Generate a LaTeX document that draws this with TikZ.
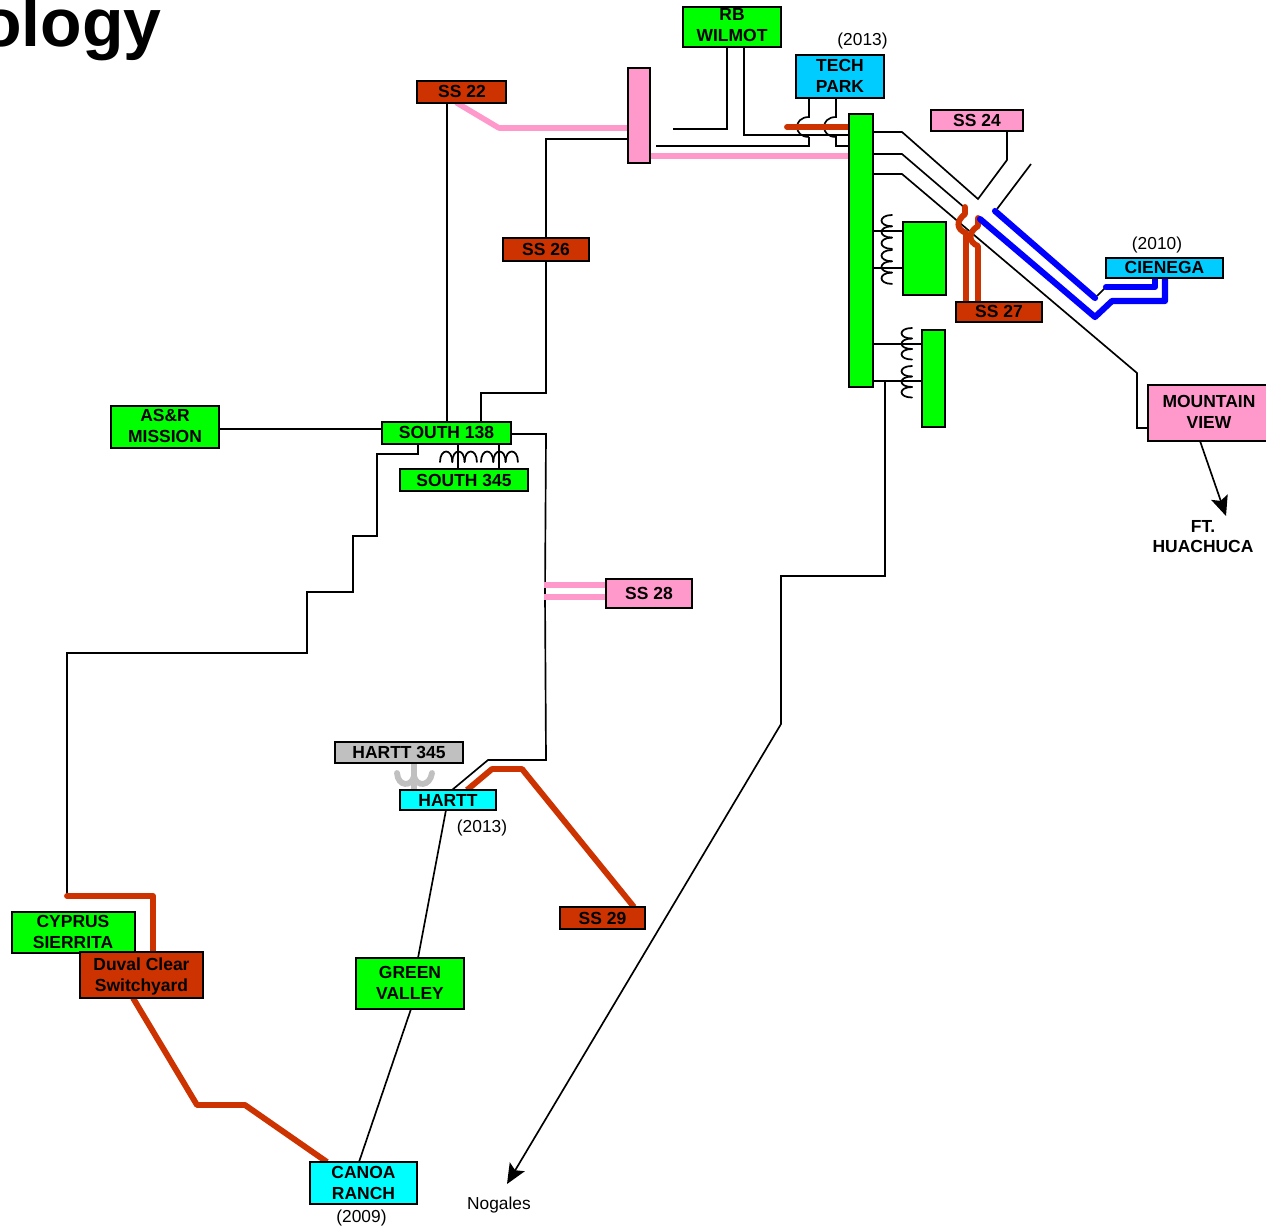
\documentclass[tikz,border=0pt]{standalone}
\usepackage{fontspec}
\setmainfont{Liberation Sans}
\usetikzlibrary{arrows.meta}
\pgfdeclarelayer{wires}
\pgfsetlayers{wires,main}
\definecolor{busgreen}{HTML}{00FF00}
\definecolor{ssred}{HTML}{CC3300}
\definecolor{sspink}{HTML}{FF99CC}
\definecolor{skyb}{HTML}{00CCFF}
\definecolor{cyanb}{HTML}{00FFFF}
\definecolor{grayb}{HTML}{C0C0C0}
\definecolor{blueln}{HTML}{0000FF}
\tikzset{
  boxn/.style={draw=black,line width=1.5pt,inner sep=0pt,outer sep=0pt,align=center,
    font=\fontsize{13.1}{15.8}\selectfont\bfseries,text=black},
  yearn/.style={inner sep=0pt,font=\fontsize{13}{15.8}\selectfont,text=black},
  wire/.style={draw=black,line width=1.25pt,line join=miter},
  coilln/.style={draw=black,line width=1.3pt,line join=round},
  redln/.style={draw=ssred,line width=4.4pt,line cap=round,line join=round},
  pinkln/.style={draw=sspink,line width=4.2pt,line join=round},
  blueline/.style={draw=blueln,line width=4.6pt,line cap=round,line join=round},
  grayln/.style={draw=grayb,line width=4.4pt,line cap=round},
  arrowln/.style={wire,-{Stealth[length=15pt,width=13pt,inset=3pt]}}
}
\newcommand{\bx}[6]{%
  \node[boxn,fill=#6,minimum width={(#3-#1)*0.75pt},minimum height={(#4-#2)*0.75pt}]
    (#5) at ({(#1+#3)/2},{(#2+#4)/2}) {};
}
\newcommand{\bxt}[9]{%
  \node[boxn,fill=#7,minimum width={(#4-#2)*0.75pt},minimum height={(#5-#3)*0.75pt}]
    (#6) at ({(#2+#4)/2},{(#3+#5)/2}) {};
  \node[inner sep=0pt,align=center,font=\fontsize{13.1}{15.7}\selectfont\bfseries,text=black] (#6t) at ({(#2+#4)/2+#9},{(#3+#5)/2+#8}) {#1};
}
% a winding: three lobes bulging from the line x=#1 to the left, starting at y=#2, each #3 high
\newcommand{\coilv}[3]{\foreach \i in {0,1,2}{\draw[coilln,line cap=round] (#1,{#2+\i*#3}) .. controls (#1-14,{#2+\i*#3}) and (#1-14,{#2+(\i+1)*#3}) .. (#1,{#2+(\i+1)*#3});}}
\newcommand{\coilh}[3]{\foreach \i in {0,1,2}{\draw[coilln,line cap=round] ({#1+\i*#2},#3) .. controls ({#1+\i*#2},#3-14) and ({#1+(\i+1)*#2},#3-14) .. ({#1+(\i+1)*#2},#3);}}
\begin{document}
\begin{tikzpicture}[x=0.75pt,y=-0.75pt]
\useasboundingbox (0,0) rectangle (1266,1228);
\node[inner sep=0pt,anchor=base east,font=\fontsize{51}{54}\selectfont\bfseries] (title) at (162,46) {ology};
% boxes
\newcommand{\rbw}{RB\\WILMOT}
\bxt{\rbw}{683}{7}{781}{47}{rb}{busgreen}{-1.5}{0}
\newcommand{\tkp}{TECH\\PARK}
\bxt{\tkp}{796}{55}{884}{98}{tech}{skyb}{-0.5}{0}
\bx{628}{68}{650}{163}{pinkbus}{sspink}
\bx{849}{114}{873}{387}{mainbus}{busgreen}
\bxt{SS 22}{417}{81}{506}{103}{ssa}{ssred}{-1}{0.5}
\bxt{SS 24}{931}{110}{1023}{131}{ssb}{sspink}{0}{0}
\bxt{SS 26}{503}{238}{589}{261}{ssc}{ssred}{0}{0}
\bxt{SS 27}{956}{302}{1042}{322}{ssd}{ssred}{-1}{0}
\bxt{SS 28}{606}{579}{692}{608}{sse}{sspink}{0}{0}
\bxt{SS 29}{560}{907}{645}{929}{ssf}{ssred}{0}{0}
\bx{903}{222}{946}{295}{tra}{busgreen}
\bx{922}{330}{945}{427}{trb}{busgreen}
\bxt{CIENEGA}{1106}{258}{1223}{278}{cien}{skyb}{-1}{0}
\newcommand{\mvw}{MOUNTAIN\\VIEW}
\bxt{\mvw}{1148}{385}{1272}{441}{mtn}{sspink}{-1}{-1}
\newcommand{\asr}{AS\&R\\MISSION}
\bxt{\asr}{111}{406}{219}{448}{asr}{busgreen}{-1}{0}
\bxt{SOUTH 138}{382}{422}{511}{444}{south}{busgreen}{-1}{0}
\bxt{SOUTH 345}{400}{469}{528}{491}{southb}{busgreen}{0}{0}
\bxt{HARTT 345}{335}{742}{463}{763}{hartb}{grayb}{-0.5}{0}
\bxt{HARTT}{400}{790}{496}{810}{hart}{cyanb}{0}{0}
\newcommand{\cys}{CYPRUS\\SIERRITA}
\bxt{\cys}{12}{912}{135}{953}{cyp}{busgreen}{-0.5}{-0.5}
\newcommand{\dvl}{Duval Clear\\Switchyard}
\bxt{\dvl}{80}{952}{203}{998}{duv}{ssred}{1.5}{0}
\newcommand{\grv}{GREEN\\VALLEY}
\bxt{\grv}{356}{958}{464}{1009}{grn}{busgreen}{-0.5}{0}
\newcommand{\cnr}{CANOA\\RANCH}
\bxt{\cnr}{310}{1162}{417}{1204}{cano}{cyanb}{0}{0}
% free labels
\node[yearn] (y1) at (862.5,41.5) {(2013)};
\node[yearn] (y2) at (1157,245) {(2010)};
\node[yearn] (y3) at (482,827.5) {(2013)};
\node[yearn] (y4) at (361.5,1218) {(2009)};
\node[yearn] (nog) at (499,1205) {Nogales};
\node[inner sep=0pt,align=center,font=\fontsize{13.1}{15}\selectfont\bfseries] (ftw) at (1203,536.5) {FT.\\HUACHUCA};
\coordinate (wlA) at (673,129);
\coordinate (wlB) at (656,146);
\coordinate (ssbB) at (1031,164);
\coordinate (ssbA) at (997,209);
\coordinate (arrN) at (507,1184);
\coordinate (arrF) at (1226,516);
\coordinate (redS) at (787,127);
\coordinate (redC) at (67,896);
\begin{pgfonlayer}{wires}
% Wilmot
\draw[wire] (727,0 |- rb.south) -- (727,129) -- (wlA);
\draw[wire] (744,0 |- rb.south) -- (744,135) -- (0,135 -| mainbus.west);
\draw[wire] (wlB) -- (809,146) -- (809,137);
% Tech Park
\draw[wire] (809,0 |- tech.south) -- (809,117) .. controls (793,117) and (793,137) .. (809,137);
\draw[wire] (836,0 |- tech.south) -- (836,117) .. controls (820,117) and (820,137) .. (836,137) -- (836,146) -- (0,146 -| mainbus.west);
\draw[redln] (redS) -- (0,127 -| mainbus.west);
% pink
\draw[pinkln,line cap=round] (457,0 |- ssa.south) -- (499,128) -- (0,128 -| pinkbus.west);
\draw[pinkln] (0,156 -| pinkbus.east) -- (0,156 -| mainbus.west);
\draw[wire] (0,139 -| pinkbus.west) -- (546,139) -- (546,393) -- (481,393) -- (481,0 |- south.north);
\draw[wire] (447,0 |- ssa.south) -- (447,0 |- south.north);
% main bus to east
\draw[wire] (0,132 -| mainbus.east) -- (902,132) -- (978,199) -- (1007,160) -- (1007,0 |- ssb.south);
\draw[wire] (0,154 -| mainbus.east) -- (902,154) -- (965,208);
\draw[wire] (0,174 -| mainbus.east) -- (902,174) -- (1137,373) -- (1137,428) -- (0,428 -| mtn.west);
\draw[wire] (ssbA) -- (ssbB);
\draw[wire] (1097,296) -- (1106,287);
% red SS27
\draw[redln] (966,0 |- ssd.north) -- (966,233) .. controls (956,229) and (956,221) .. (965,214) -- (965,207);
\draw[redln] (978,0 |- ssd.north) -- (978,246) .. controls (968,242) and (968,232) .. (978,226) -- (978,218);
% blue
\draw[blueline] (980,219) -- (1095,317) -- (1112,301) -- (1165,301) -- (1165,0 |- cien.south);
\draw[blueline] (995,211) -- (1095,298);
\draw[blueline] (1106,287) -- (1155,287) -- (1155,0 |- cien.south);
% transformers
\draw[wire] (0,231 -| mainbus.east) -- (0,231 -| tra.west);
\draw[wire] (0,268 -| mainbus.east) -- (0,268 -| tra.west);
\coilv{892}{215}{11.3}
\coilv{892}{250}{11.3}
\draw[wire] (0,344 -| mainbus.east) -- (0,344 -| trb.west);
\draw[wire] (0,381 -| mainbus.east) -- (0,381 -| trb.west);
\coilv{912}{328}{10.5}
\coilv{912}{366}{10.5}
% Nogales
\draw[arrowln] (885,381) -- (885,576) -- (781,576) -- (781,724) -- (arrN);
% Mountain View arrow
\draw[arrowln] (1200,0 |- mtn.south) -- (arrF);
% South
\draw[wire] (asr.east |- 0,429) -- (south.west |- 0,429);
\draw[wire] (418,0 |- south.south) -- (418,454) -- (377,454) -- (377,536) -- (353,536) -- (353,592) -- (307,592) -- (307,653) -- (67,653) -- (redC);
\draw[redln] (redC) -- (153,896) -- (153,0 |- duv.north);
\draw[wire] (458,0 |- south.south) -- (458,0 |- southb.north);
\draw[wire] (499,0 |- south.south) -- (499,0 |- southb.north);
\coilh{440}{12.3}{462}
\coilh{481}{12.3}{462}
\draw[wire] (0,434 -| south.east) -- (546,434) -- (545,595) -- (546,760) -- (488,760) -- (452,790);
\draw[pinkln] (544,585) -- (0,585 -| sse.west);
\draw[pinkln] (544,597) -- (0,597 -| sse.west);
% Hartt
\draw[grayln] (414,0 |- hartb.south) -- (414,0 |- hart.north);
\draw[grayln] (397,773) .. controls (398,787) and (412,787) .. (414,776) .. controls (416,787) and (430,787) .. (432,773);
\draw[redln,line cap=butt] (467,0 |- hart.north) -- (492,769) -- (522,769) -- (634,0 |- ssf.north);
\draw[wire] (446,0 |- hart.south) -- (418,0 |- grn.north);
\draw[wire] (411,0 |- grn.south) -- (359,0 |- cano.north);
\draw[redln,line cap=butt] (133,0 |- duv.south) -- (197,1105) -- (245,1105) -- (327,0 |- cano.north);
\end{pgfonlayer}
\end{tikzpicture}
\end{document}
